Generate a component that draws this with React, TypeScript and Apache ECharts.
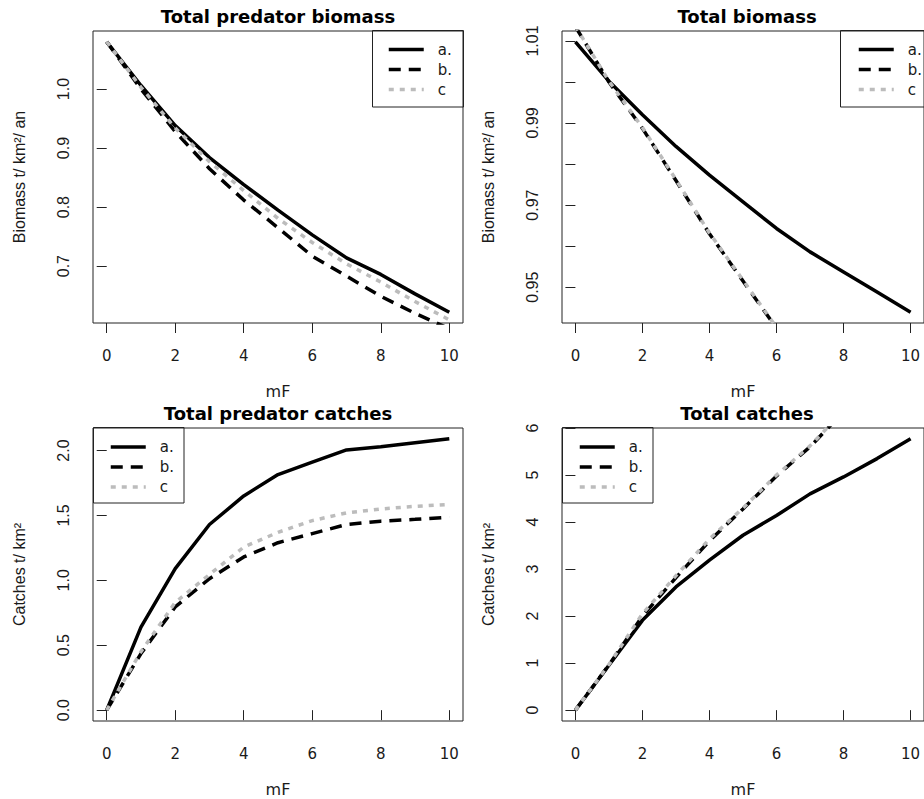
import React, { useEffect, useRef } from "react";
import * as echarts from "echarts";

// ---- data ----
const mF = [0, 1, 2, 3, 4, 5, 6, 7, 8, 9, 10];
const xTicks = [0, 2, 4, 6, 8, 10];

const predBiomassA = [1.08, 1.006, 0.938, 0.884, 0.838, 0.795, 0.753, 0.714, 0.686, 0.653, 0.622];
const predBiomassB = [1.08, 1.0, 0.928, 0.865, 0.812, 0.765, 0.717, 0.683, 0.649, 0.62, 0.594];
const predBiomassC = [1.08, 1.003, 0.934, 0.877, 0.828, 0.781, 0.74, 0.704, 0.673, 0.64, 0.609];

const totBiomassA = [1.0098, 1.0002, 0.992, 0.9843, 0.9773, 0.9708, 0.9643, 0.9586, 0.9537, 0.9488, 0.9439];
const totBiomassB = [1.0135, 1.0, 0.9887, 0.976, 0.963, 0.9515, 0.94, 0.929, 0.918, 0.9075, 0.897];
const totBiomassC = [1.0136, 1.0002, 0.9889, 0.9762, 0.9632, 0.9517, 0.9402, 0.9292, 0.9182, 0.9077, 0.8972];

const predCatchA = [0, 0.64, 1.09, 1.43, 1.65, 1.815, 1.91, 2.005, 2.03, 2.06, 2.09];
const predCatchB = [0, 0.436, 0.795, 1.013, 1.18, 1.29, 1.36, 1.43, 1.456, 1.47, 1.487];
const predCatchC = [0, 0.45, 0.83, 1.045, 1.256, 1.37, 1.46, 1.52, 1.55, 1.57, 1.585];

const totCatchA = [0, 0.956, 1.91, 2.62, 3.19, 3.72, 4.14, 4.6, 4.96, 5.35, 5.77];
const totCatchB = [0, 0.96, 2.0, 2.82, 3.6, 4.28, 4.98, 5.6, 6.35, 7.05, 7.7];
const totCatchC = [0, 0.97, 2.05, 2.86, 3.64, 4.3, 5.0, 5.62, 6.37, 7.07, 7.72];

const predBiomassTicks = [0.7, 0.8, 0.9, 1.0];
const totBiomassTicks = [0.95, 0.96, 0.97, 0.98, 0.99, 1.0, 1.01];
const totBiomassLabels = [0.95, 0.97, 0.99, 1.01];
const predCatchTicks = [0, 0.5, 1.0, 1.5, 2.0];
const totCatchTicks = [0, 1, 2, 3, 4, 5, 6];

const seriesNames = ["a.", "b.", "c"];
const titles = ["Total predator biomass", "Total biomass", "Total predator catches", "Total catches"];
const yNames = ["Biomass t/ km²/ an", "Biomass t/ km²/ an", "Catches t/ km²", "Catches t/ km²"];
const xName = "mF";

// ---- layout ----
const panels = [
  { left: 93, top: 31, h: 292, a: predBiomassA, b: predBiomassB, c: predBiomassC, ticks: predBiomassTicks, labels: predBiomassTicks, dec: 1, leg: [372.5, 30.5, 91, 76.5], legItem: [387, 42] },
  { left: 562, top: 31, h: 292, a: totBiomassA, b: totBiomassB, c: totBiomassC, ticks: totBiomassTicks, labels: totBiomassLabels, dec: 2, leg: [840.5, 30.5, 100, 76.5], legItem: [857, 42] },
  { left: 93, top: 428, h: 293, a: predCatchA, b: predCatchB, c: predCatchC, ticks: predCatchTicks, labels: predCatchTicks, dec: 1, leg: [93.5, 427.5, 90.5, 75.5], legItem: [109, 439.5] },
  { left: 562, top: 428, h: 293, a: totCatchA, b: totCatchB, c: totCatchC, ticks: totCatchTicks, labels: totCatchTicks, dec: 0, leg: [562.5, 427.5, 90.5, 75.5], legItem: [578, 439.5] },
];
const W = 370;
const TXT = "#1a1a1a";
const HFONT = "DejaVu Sans";
const VFONT = "Liberation Sans";

function padRange(arr: number[]) {
  const mn = Math.min(...arr);
  const mx = Math.max(...arr);
  const p = (mx - mn) * 0.04;
  return [mn - p, mx + p];
}

const lineStyles = [
  { color: "#000", width: 3.5, type: "solid" },
  { color: "#000", width: 3.5, type: [12, 8] },
  { color: "#bcbcbc", width: 3.5, type: [5, 6] },
];

export default function App() {
  const ref = useRef<HTMLDivElement>(null);
  useEffect(() => {
    if (!ref.current) return;
    const chart = echarts.init(ref.current, null, { renderer: "svg" });
    const grid: any[] = [];
    const xAxis: any[] = [];
    const yAxis: any[] = [];
    const series: any[] = [];
    const title: any[] = [];
    const legend: any[] = [];
    const graphic: any[] = [];
    panels.forEach((p, i) => {
      grid.push({ left: p.left, top: p.top, width: W, height: p.h, show: true, borderColor: "#222", borderWidth: 1, backgroundColor: "transparent" });
      xAxis.push({
        gridIndex: i, type: "value", min: -0.4, max: 10.4,
        axisLine: { show: false }, splitLine: { show: false },
        axisTick: { show: true, length: 10, customValues: xTicks, lineStyle: { color: "#222", width: 1 } },
        axisLabel: { customValues: xTicks, margin: 25, fontFamily: HFONT, fontSize: 15, color: TXT },
        name: xName, nameLocation: "middle", nameGap: 60,
        nameTextStyle: { fontFamily: HFONT, fontSize: 16, color: TXT },
      });
      const [mn, mx] = padRange(p.a);
      yAxis.push({
        gridIndex: i, type: "value", min: mn, max: mx,
        axisLine: { show: false }, splitLine: { show: false },
        axisTick: { show: true, length: 10, customValues: p.ticks, lineStyle: { color: "#222", width: 1 } },
        axisLabel: {
          customValues: p.labels, rotate: 90, margin: 22, fontFamily: VFONT, fontSize: 16, color: TXT,
          formatter: (v: number) => v.toFixed(p.dec),
        },
        name: yNames[i], nameLocation: "middle", nameGap: 66, nameRotate: 90,
        nameTextStyle: { fontFamily: VFONT, fontSize: 16, color: TXT },
      });
      [p.a, p.b, p.c].forEach((vals, k) => {
        series.push({
          type: "line", name: seriesNames[k], xAxisIndex: i, yAxisIndex: i,
          data: mF.map((x, j) => [x, vals[j]]),
          symbol: "none", clip: true, lineStyle: lineStyles[k], itemStyle: { color: lineStyles[k].color },
          z: 2 + k,
        });
      });
      title.push({
        text: titles[i], left: p.left + W / 2, top: p.top - 24, textAlign: "center", padding: 0,
        textStyle: { fontFamily: HFONT, fontWeight: "bold", fontSize: 18, color: "#000" },
      });
      legend.push({
        orient: "vertical", left: p.legItem[0], top: p.legItem[1], itemWidth: 35, itemHeight: 14, itemGap: 5, padding: 0,
        data: seriesNames, selectedMode: false,
        lineStyle: { width: 3.5 },
        itemStyle: { color: "transparent", borderColor: "transparent", borderWidth: 0, opacity: 0 },
        textStyle: { fontFamily: HFONT, fontSize: 15, color: TXT, padding: [0, 0, 0, 9] },
      });
      graphic.push({
        type: "rect", shape: { x: p.leg[0], y: p.leg[1], width: p.leg[2], height: p.leg[3] },
        style: { fill: "none", stroke: "#222", lineWidth: 1 }, z: 100,
      });
    });
    chart.setOption({
      animation: false,
      backgroundColor: "#fff",
      textStyle: { fontFamily: HFONT },
      grid, xAxis, yAxis, series, title, legend, graphic,
    });
    return () => chart.dispose();
  }, []);
  return (
    <div style={{ position: "absolute", left: 0, top: 0, width: 924, height: 799, overflow: "hidden" }}>
      <div ref={ref} style={{ width: 924, height: 799 }} />
    </div>
  );
}
